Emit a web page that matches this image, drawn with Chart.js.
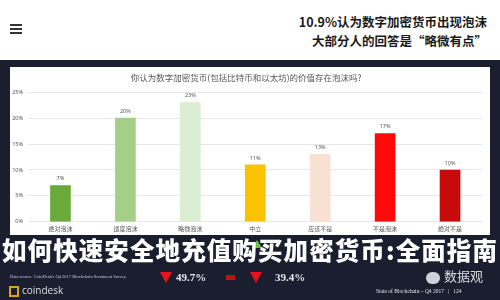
<!DOCTYPE html>
<html>
<head>
<meta charset="utf-8">
<script src="https://cdn.jsdelivr.net/npm/chart.js@4/dist/chart.umd.min.js"></script>
<style>
  html, body { margin: 0; padding: 0; }
  body {
    width: 500px; height: 300px; overflow: hidden; position: relative;
    background: #1b1e2f;
    font-family: "Noto Sans CJK SC", "Noto Sans", sans-serif;
  }
  #header { position: absolute; left: 0; top: 0; width: 500px; height: 60px; background: #fff; }
  .burger { position: absolute; left: 10px; width: 12px; height: 2px; background: #333; }
  .head { position: absolute; right: 13px; font-size: 12.5px; font-weight: 700; color: #1a1a1a; white-space: nowrap; line-height: 1; }
  #panel { position: absolute; left: 10px; top: 67px; width: 480px; height: 168px; background: #fff; }
  #panel canvas { position: absolute; left: 0; top: 0; }
  #big {
    position: absolute; left: 0; top: 238px; width: 500px; text-align: center;
    font-size: 24.5px; font-weight: 900; color: #fff; white-space: nowrap; line-height: 1;
    letter-spacing: 1.1px;
    font-family: "Noto Sans CJK SC", sans-serif;
  }
  .tiny { position: absolute; color: #c9cbd3; white-space: nowrap; font-family: "Liberation Serif", serif; line-height: 1; }
  .pct { position: absolute; color: #e8e8ec; font-family: "Liberation Serif", serif; font-size: 11px; font-weight: 700; line-height: 1; }
  .tri-d { position: absolute; width: 0; height: 0; border-left: 6px solid transparent; border-right: 6px solid transparent; border-top: 11px solid #e8141b; }
  .tri-u { position: absolute; width: 0; height: 0; border-left: 5px solid transparent; border-right: 5px solid transparent; border-bottom: 8px solid #6cc04a; }
</style>
</head>
<body>
<div id="header">
  <div class="burger" style="top:24px"></div>
  <div class="burger" style="top:28px"></div>
  <div class="burger" style="top:32px"></div>
  <div class="head" style="top:16px">10.9%认为数字加密货币出现泡沫</div>
  <div class="head" style="top:35px">大部分人的回答是“略微有点”</div>
</div>

<div id="panel"><canvas id="chart" width="480" height="168"></canvas></div>

<div class="tri-u" style="left:162px; top:240px"></div>
<div class="tri-u" style="left:252px; top:240px"></div>
<div id="big">如何快速安全地充值购买加密货币:全面指南</div>

<div class="tiny" style="left:10px; top:275px; font-size:4.5px">Data source: CoinDesk's Q4 2017 Blockchain Sentiment Survey</div>
<div style="position:absolute; left:9px; top:286px; width:10px; height:11px; border:2px solid #d9a520; box-sizing:border-box"></div>
<div style="position:absolute; left:22px; top:285px; font-family:'Open Sans',sans-serif; font-size:10px; color:#dcdde3; line-height:1">coindesk</div>

<div class="tri-d" style="left:160px; top:272px"></div>
<div class="pct" style="left:176px; top:272px">49.7%</div>
<div style="position:absolute; left:226px; top:275px; width:9px; height:5px; background:#c0101a"></div>
<div class="tri-d" style="left:250px; top:272px"></div>
<div class="pct" style="left:275px; top:272px">39.4%</div>

<div style="position:absolute; left:426px; top:272px; width:14px; height:12px; border-radius:6px; background:#cfd1d8"></div>
<div style="position:absolute; left:444px; top:269px; font-size:13px; color:#d9dae0; line-height:1">数据观</div>
<div class="tiny" style="left:376px; top:289px; font-size:5.5px; color:#e2e3e8">State of Blockchain – Q4 2017 &nbsp;&nbsp;|&nbsp;&nbsp; 124</div>

<script>
// Survey answers and share of respondents (%)
const categories = ['绝对泡沫', '适度泡沫', '略微泡沫', '中立', '应该不是', '不是泡沫', '绝对不是'];
const shares = [7, 20, 23, 11, 13, 17, 10];
const barColors = ['#6aaa3b', '#a3cf86', '#dbeed2', '#fbc200', '#f8e0d4', '#ff0a0a', '#c80a0a'];
const yTicks = [0, 5, 10, 15, 20, 25];
const chartTitle = '你认为数字加密货币(包括比特币和以太坊)的价值存在泡沫吗?';

// Writes each bar's percentage just above its top
const valueLabels = {
  id: 'valueLabels',
  afterDatasetsDraw(chart) {
    const ctx = chart.ctx;
    const meta = chart.getDatasetMeta(0);
    ctx.save();
    ctx.font = '5.5px "Noto Sans", sans-serif';
    ctx.fillStyle = '#555';
    ctx.textAlign = 'center';
    ctx.textBaseline = 'bottom';
    meta.data.forEach((bar, i) => {
      ctx.fillText(shares[i] + '%', bar.x, bar.y - 4);
    });
    ctx.restore();
  }
};

new Chart(document.getElementById('chart'), {
  type: 'bar',
  data: {
    labels: categories,
    datasets: [{
      data: shares,
      backgroundColor: barColors,
      barThickness: 20,
      borderWidth: 0
    }]
  },
  options: {
    responsive: false,
    animation: false,
    layout: { padding: { left: 0, right: 7.5, top: 0, bottom: 0 } },
    plugins: {
      legend: { display: false },
      tooltip: { enabled: false },
      title: {
        display: true,
        text: chartTitle,
        color: '#555',
        font: { size: 8.5, family: '"Noto Sans CJK SC", sans-serif', weight: 'normal' },
        padding: { top: 6, bottom: 9 }
      }
    },
    scales: {
      x: {
        grid: { display: false, drawTicks: false },
        border: { display: false },
        ticks: {
          color: '#555',
          padding: 3,
          maxRotation: 0,
          autoSkip: false,
          font: { size: 6, family: '"Noto Sans CJK SC", sans-serif' }
        }
      },
      y: {
        min: 0,
        max: 25,
        afterBuildTicks(scale) { scale.ticks = yTicks.map(v => ({ value: v })); },
        grid: { color: '#e8e8e8', lineWidth: 1, drawTicks: false },
        border: { display: false },
        ticks: {
          color: '#555',
          padding: 5,
          font: { size: 5.5, family: '"Noto Sans", sans-serif' },
          callback: v => v + '%'
        },
        afterFit(scale) { scale.width = 18; }
      }
    }
  },
  plugins: [valueLabels]
});
</script>
</body>
</html>
